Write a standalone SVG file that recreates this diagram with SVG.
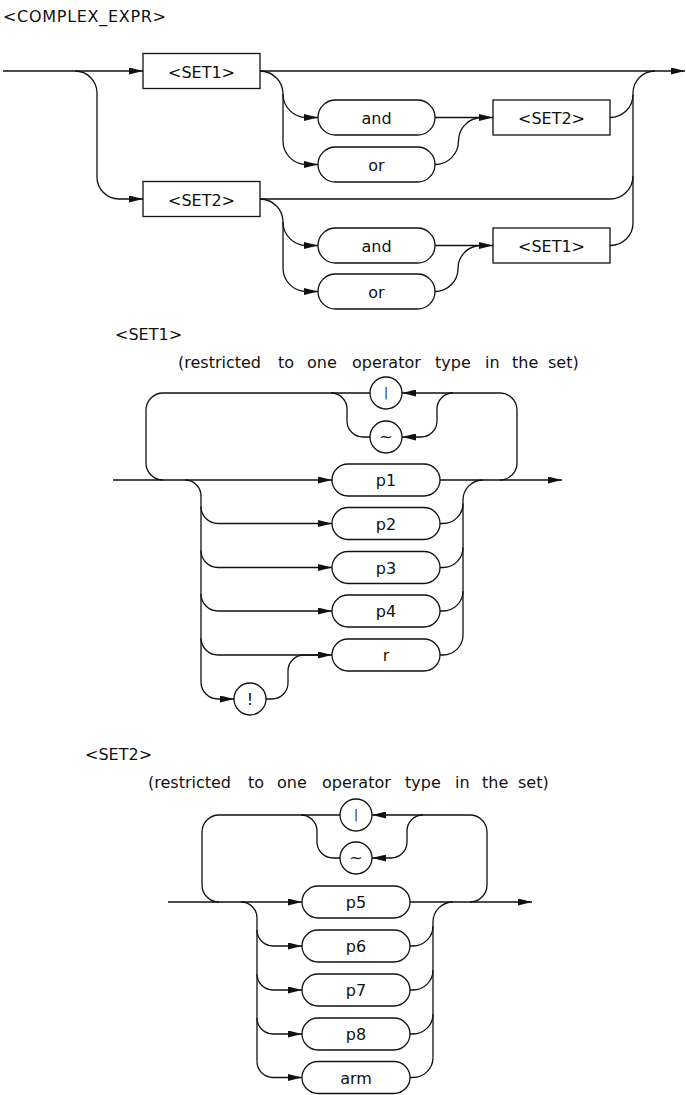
<svg xmlns="http://www.w3.org/2000/svg" width="686" height="1095" viewBox="0 0 686 1095">
<defs>
<marker id="arr" markerUnits="userSpaceOnUse" markerWidth="14" markerHeight="7" refX="14" refY="3.5" orient="auto"><path d="M0,0 L14,3.5 L0,7 z" fill="#111"/></marker>
</defs>
<style>
.ln{fill:none;stroke:#111;stroke-width:1.3}
.a{marker-end:url(#arr)}
.nd{fill:#fff;stroke:#111;stroke-width:1.3}
text{font-family:"DejaVu Sans","Liberation Sans",sans-serif;font-size:16px;fill:#111}
.c{text-anchor:middle}
</style>
<g id="labels">
<text x="3" y="22" textLength="163" lengthAdjust="spacing">&lt;COMPLEX_EXPR&gt;</text>
<text x="115" y="340">&lt;SET1&gt;</text>
<text y="368"><tspan x="178">(restricted</tspan><tspan x="278">to</tspan><tspan x="307">one</tspan><tspan x="352">operator</tspan><tspan x="435">type</tspan><tspan x="485">in</tspan><tspan x="512">the</tspan><tspan x="548">set)</tspan></text>
<text x="85" y="760">&lt;SET2&gt;</text>
<text y="788"><tspan x="148">(restricted</tspan><tspan x="248">to</tspan><tspan x="277">one</tspan><tspan x="322">operator</tspan><tspan x="405">type</tspan><tspan x="455">in</tspan><tspan x="482">the</tspan><tspan x="518">set)</tspan></text>
</g>
<g id="connectors">
<path class="ln a" d="M3,71 H143"/>
<path class="ln a" d="M75,71 A22,22 0 0 1 97,93 V177 A22,22 0 0 0 119,199 H143"/>
<path class="ln a" d="M260,71 H685"/>
<path class="ln a" d="M260,71 A23,23 0 0 1 283,94 A23.5,23.5 0 0 0 306.5,117.5 H318"/>
<path class="ln a" d="M283,94 V141 A23.5,23.5 0 0 0 306.5,164.5 H318"/>
<path class="ln a" d="M435,117.5 H493"/>
<path class="ln" d="M435,164.5 A23.5,23.5 0 0 0 458.5,141 A23.5,23.5 0 0 1 482,117.5"/>
<path class="ln" d="M610,117.5 A23,23 0 0 0 633,94.5"/>
<path class="ln" d="M633,223 V93 A22,22 0 0 1 655,71"/>
<path class="ln" d="M260,199 H610 A23,23 0 0 0 633,176"/>
<path class="ln" d="M610,245.5 A22.5,22.5 0 0 0 633,223"/>
<path class="ln a" d="M260,199 A23,23 0 0 1 283,222 A23.5,23.5 0 0 0 306.5,245.5 H318"/>
<path class="ln a" d="M283,222 V268 A23.5,23.5 0 0 0 306.5,291.5 H318"/>
<path class="ln a" d="M435,245.5 H493"/>
<path class="ln" d="M435,291.5 A23,23 0 0 0 458,268.5 A23,23 0 0 1 481,245.5"/>

<path class="ln a" d="M113,480 H332"/>
<path class="ln" d="M163,480 A17,17 0 0 1 146,463 V410 A17,17 0 0 1 163,393 H370"/>
<path class="ln" d="M331,393 A16,16 0 0 1 347,409 V421 A16,16 0 0 0 363,437 H370"/>
<path class="ln a" d="M500,480 A17,17 0 0 0 517,463 V410 A17,17 0 0 0 500,393 H402"/>
<path class="ln a" d="M453,393 A16,16 0 0 0 437,409 V421 A16,16 0 0 1 421,437 H402"/>
<path class="ln a" d="M440,480 H562"/>
<path class="ln a" d="M185,480 A16,16 0 0 1 201,496 V682 A17,17 0 0 0 218,699 H234"/>
<path class="ln a" d="M201,506.5 A17,17 0 0 0 218,523.5 H332"/>
<path class="ln a" d="M201,550.5 A17,17 0 0 0 218,567.5 H332"/>
<path class="ln a" d="M201,594 A17,17 0 0 0 218,611 H332"/>
<path class="ln a" d="M201,638 A17,17 0 0 0 218,655 H332"/>
<path class="ln" d="M266,699 H272 A16,16 0 0 0 288,683 V671 A16,16 0 0 1 304,655 H318"/>
<path class="ln" d="M440,523.5 H443 A20,20 0 0 0 463,503.5"/>
<path class="ln" d="M440,567.5 H443 A20,20 0 0 0 463,547.5"/>
<path class="ln" d="M440,611 H443 A20,20 0 0 0 463,591"/>
<path class="ln" d="M440,655 H443 A20,20 0 0 0 463,635"/>
<path class="ln" d="M463,635 V500 A20,20 0 0 1 483,480"/>

<path class="ln a" d="M168,902 H302"/>
<path class="ln" d="M219,902 A17,17 0 0 1 202,885 V832 A17,17 0 0 1 219,815 H340"/>
<path class="ln" d="M301,815 A16,16 0 0 1 317,831 V842 A16,16 0 0 0 333,858 H340"/>
<path class="ln a" d="M470,902 A17,17 0 0 0 487,885 V832 A17,17 0 0 0 470,815 H372"/>
<path class="ln a" d="M423,815 A16,16 0 0 0 407,831 V842 A16,16 0 0 1 391,858 H372"/>
<path class="ln a" d="M410,902 H532"/>
<path class="ln" d="M241,902 A16,16 0 0 1 257,918 V1061.5"/>
<path class="ln a" d="M257,930 A16,16 0 0 0 273,946 H302"/>
<path class="ln a" d="M257,974 A16,16 0 0 0 273,990 H302"/>
<path class="ln a" d="M257,1018 A16,16 0 0 0 273,1034 H302"/>
<path class="ln a" d="M257,1061.5 A16,16 0 0 0 273,1077.5 H302"/>
<path class="ln" d="M410,946 H413 A20,20 0 0 0 433,926"/>
<path class="ln" d="M410,990 H413 A20,20 0 0 0 433,970"/>
<path class="ln" d="M410,1034 H413 A20,20 0 0 0 433,1014"/>
<path class="ln" d="M410,1077.5 H413 A20,20 0 0 0 433,1057.5"/>
<path class="ln" d="M433,1057.5 V922 A20,20 0 0 1 453,902"/>
</g>

<g id="cx_set1"><rect class="nd" x="143" y="53.5" width="117" height="35"/><text class="c" x="201.5" y="77.5">&lt;SET1&gt;</text></g>
<g id="cx_and1"><rect class="nd" x="318" y="100" width="117" height="35" rx="17.5"/><text class="c" x="376.5" y="123.5">and</text></g>
<g id="cx_or1"><rect class="nd" x="318" y="147" width="117" height="35" rx="17.5"/><text class="c" x="376.5" y="170.5">or</text></g>
<g id="cx_set2b"><rect class="nd" x="493" y="100" width="117" height="35"/><text class="c" x="551.5" y="123.5">&lt;SET2&gt;</text></g>
<g id="cx_set2"><rect class="nd" x="143" y="181.5" width="117" height="35"/><text class="c" x="201.5" y="205.5">&lt;SET2&gt;</text></g>
<g id="cx_and2"><rect class="nd" x="318" y="228" width="117" height="35" rx="17.5"/><text class="c" x="376.5" y="251.5">and</text></g>
<g id="cx_or2"><rect class="nd" x="318" y="274" width="117" height="35" rx="17.5"/><text class="c" x="376.5" y="297.5">or</text></g>
<g id="cx_set1b"><rect class="nd" x="493" y="228" width="117" height="35"/><text class="c" x="551.5" y="251.5">&lt;SET1&gt;</text></g>

<g id="s1_bar"><circle class="nd" cx="386" cy="393" r="16"/><text class="c" x="386" y="397" style="font-size:12px">|</text></g>
<g id="s1_tilde"><circle class="nd" cx="386" cy="437" r="16"/><text class="c" x="386" y="442">~</text></g>
<g id="s1_p1"><rect class="nd" x="332" y="464" width="108" height="32" rx="16"/><text class="c" x="386" y="486">p1</text></g>
<g id="s1_p2"><rect class="nd" x="332" y="507.5" width="108" height="32" rx="16"/><text class="c" x="386" y="529.5">p2</text></g>
<g id="s1_p3"><rect class="nd" x="332" y="551.5" width="108" height="32" rx="16"/><text class="c" x="386" y="573.5">p3</text></g>
<g id="s1_p4"><rect class="nd" x="332" y="595" width="108" height="32" rx="16"/><text class="c" x="386" y="617">p4</text></g>
<g id="s1_r"><rect class="nd" x="332" y="639" width="108" height="32" rx="16"/><text class="c" x="386" y="661">r</text></g>
<g id="s1_not"><circle class="nd" cx="250" cy="699" r="16"/><text class="c" x="250" y="705">!</text></g>

<g id="s2_bar"><circle class="nd" cx="356" cy="815" r="16"/><text class="c" x="356" y="819" style="font-size:12px">|</text></g>
<g id="s2_tilde"><circle class="nd" cx="356" cy="858" r="16"/><text class="c" x="356" y="863">~</text></g>
<g id="s2_p5"><rect class="nd" x="302" y="886" width="108" height="32" rx="16"/><text class="c" x="356" y="908">p5</text></g>
<g id="s2_p6"><rect class="nd" x="302" y="930" width="108" height="32" rx="16"/><text class="c" x="356" y="952">p6</text></g>
<g id="s2_p7"><rect class="nd" x="302" y="974" width="108" height="32" rx="16"/><text class="c" x="356" y="996">p7</text></g>
<g id="s2_p8"><rect class="nd" x="302" y="1018" width="108" height="32" rx="16"/><text class="c" x="356" y="1040">p8</text></g>
<g id="s2_arm"><rect class="nd" x="302" y="1061.5" width="108" height="32" rx="16"/><text class="c" x="356" y="1083.5">arm</text></g>
</svg>
